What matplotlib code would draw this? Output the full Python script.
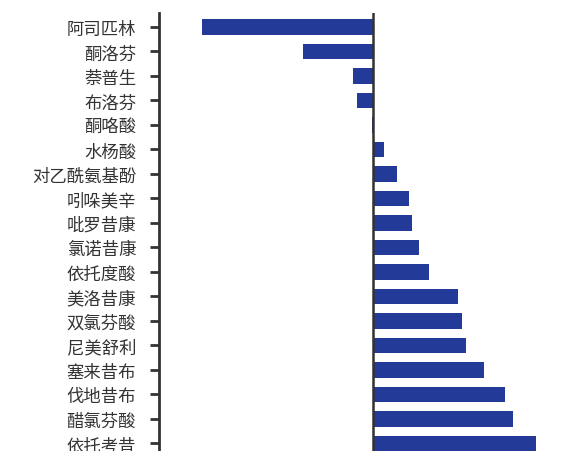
import matplotlib
matplotlib.use("Agg")
import matplotlib.pyplot as plt

plt.rcParams['font.family'] = ['Noto Sans CJK SC', 'DejaVu Sans']

drugs = ["阿司匹林", "酮洛芬", "萘普生", "布洛芬", "酮咯酸", "水杨酸",
         "对乙酰氨基酚", "吲哚美辛", "吡罗昔康", "氯诺昔康", "依托度酸",
         "美洛昔康", "双氯芬酸", "尼美舒利", "塞来昔布", "伐地昔布",
         "醋氯芬酸", "依托考昔"]
scores = [-1.71, -0.70, -0.20, -0.16, -0.01, 0.11, 0.24, 0.36, 0.39,
          0.46, 0.56, 0.85, 0.89, 0.93, 1.11, 1.32, 1.40, 1.63]

W, H = 576, 452
fig = plt.figure(figsize=(W / 100, H / 100), dpi=100)

# axes placed in pixels; bottom runs past the figure edge (cropped look)
left, top, right = 159, 14, 570
row = 24.5
y_top, y_bot = -0.57, 17.9
bottom = top + (y_bot - y_top) * row
ax = fig.add_axes([left / W, 1 - bottom / H, (right - left) / W, (bottom - top) / H])

ax.barh(range(len(drugs)), scores, height=0.65, color='#243a98')
ax.axvline(0, color='#333333', lw=1.8)

zero_px = 373
scale = 100.0
ax.set_xlim(-(zero_px - left) / scale, (right - zero_px) / scale)
ax.set_ylim(y_bot, y_top)

ax.set_yticks(range(len(drugs)))
ax.set_yticklabels(drugs, fontsize=12.5, color='#333333')
ax.tick_params(axis='y', length=6.5, width=2, color='#333333', pad=10)
ax.set_xticks([])

for s in ['top', 'right', 'bottom']:
    ax.spines[s].set_visible(False)
ax.spines['left'].set_linewidth(2)
ax.spines['left'].set_color('#333333')

fig.savefig("out.png", dpi=100)
